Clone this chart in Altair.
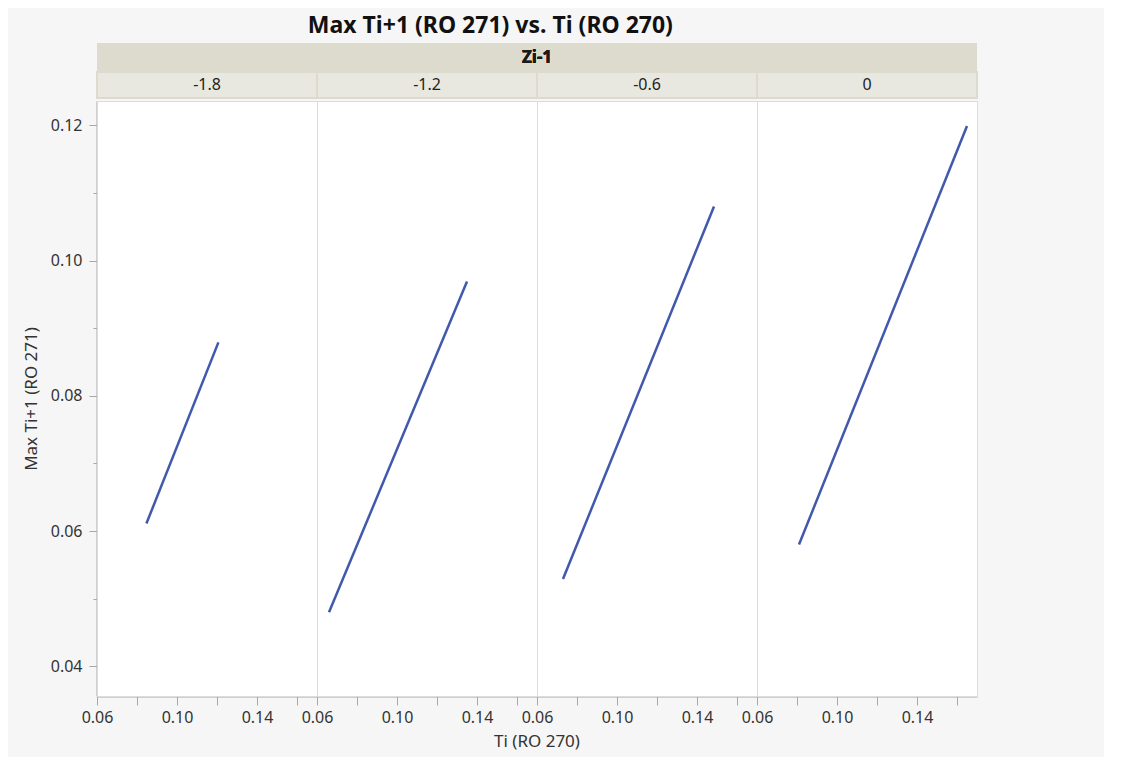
import altair as alt
import pandas as pd

# ---- data ----
zi_values = [-1.8, -1.2, -0.6, 0.0]
zi_labels = ["-1.8", "-1.2", "-0.6", "0"]
ti_start = [0.0847, 0.0660, 0.0730, 0.0810]
ti_end = [0.1207, 0.1350, 0.1485, 0.1650]
max_start = [0.0611, 0.0480, 0.0529, 0.0580]
max_end = [0.0879, 0.0969, 0.1080, 0.1199]

x_ticks = [0.06, 0.08, 0.10, 0.12, 0.14, 0.16]
x_labeled = ["0.06", "0.10", "0.14"]
y_ticks = [0.04, 0.05, 0.06, 0.07, 0.08, 0.09, 0.10, 0.11, 0.12]
x_title = ["Ti (RO 270)"]

FONT = "Noto Sans"
PANEL_W = 220
PANEL_H = 595
HDR_H = 56

rows = []
for z, lab, x0, x1, y0, y1 in zip(zi_values, zi_labels, ti_start, ti_end, max_start, max_end):
    rows.append({"zi": z, "zlab": lab, "ti": x0, "mx": y0})
    rows.append({"zi": z, "zlab": lab, "ti": x1, "mx": y1})
df = pd.DataFrame(rows)
hdr = pd.DataFrame({"zi": zi_values, "zlab": zi_labels})

no_view = alt.ViewBackground(fill="transparent", stroke="transparent")

# ---- header (Zi-1 band + level cells) ----
band_scale = alt.Scale(domain=zi_values, paddingInner=0, paddingOuter=0)
hx = alt.X("zi:O", scale=band_scale, axis=None)

band = alt.Chart(hdr).mark_rect(color="#dcdbcd").encode(
    x=alt.value(0), x2=alt.value(PANEL_W * 4), y=alt.value(0), y2=alt.value(HDR_H)
)
band_text = alt.Chart(hdr).mark_text(
    text="Zi-1", font=FONT, fontSize=17, fontWeight="bold", color="#1a1a1a", baseline="middle"
).encode(x=alt.value(PANEL_W * 2), y=alt.value(15))
cells = alt.Chart(hdr).mark_rect(
    color="#e8e8e0", stroke="#dcdbcd", strokeWidth=2
).encode(x=hx, y=alt.value(29), y2=alt.value(HDR_H - 1))
cell_text = alt.Chart(hdr).mark_text(
    font=FONT, fontSize=16, color="#222", baseline="middle"
).encode(x=hx, y=alt.value(42), text="zlab:N")

header = alt.layer(band, band_text, cells, cell_text).properties(
    width=PANEL_W * 4, height=HDR_H, view=no_view
)

# ---- faceted lines ----
x_enc = alt.X(
    "ti:Q",
    scale=alt.Scale(domain=[0.06, 0.17], nice=False, zero=False),
    axis=alt.Axis(
        values=x_ticks,
        format=".2f",
        labelExpr="indexof(" + str(x_labeled) + ", datum.label) >= 0 ? datum.label : ''",
        title=None,
        grid=False,
        tickSize=9,
        labelPadding=4,
        labelFlush=False,
        labelOverlap=False,
    ),
)
y_enc = alt.Y(
    "mx:Q",
    scale=alt.Scale(domain=[0.0356, 0.1236], nice=False, zero=False),
    axis=alt.Axis(
        values=y_ticks,
        format=".2f",
        labelExpr="round(datum.value*100) % 2 == 0 ? datum.label : ''",
        title="Max Ti+1 (RO 271)",
        grid=False,
        tickSize={"condition": {"test": "round(datum.value*100) % 2 == 0", "value": 8}, "value": 4},
        labelPadding=7,
        titlePadding=10,
        labelOverlap=False,
    ),
)

lines = alt.Chart(df).mark_line(color="#4059ad", strokeWidth=2.5).encode(
    x=x_enc, y=y_enc, detail="zi:O"
).properties(width=PANEL_W, height=PANEL_H)

facet = lines.facet(
    column=alt.Column("zi:O", sort=zi_values, header=alt.Header(labels=False, title=None)),
    spacing=0,
    bounds="flush",
)

# ---- shared x-axis title, centred under the panels ----
xt = alt.Chart(pd.DataFrame({"t": x_title})).mark_text(
    font=FONT, fontSize=17, color="#333", baseline="middle"
).encode(x=alt.value(PANEL_W * 2), y=alt.value(16), text="t:N").properties(
    width=PANEL_W * 4, height=28, view=no_view
)

chart = alt.vconcat(header, facet, xt, spacing=0).properties(
    title=alt.TitleParams(
        "Max Ti+1 (RO 271) vs. Ti (RO 270)", font=FONT, fontSize=23,
        fontWeight="bold", color="#111", anchor="middle", offset=5, dx=-10
    ),
    background="#f6f6f6",
    padding={"left": 14, "top": 6, "right": 125, "bottom": 2},
).configure_view(
    fill="white", stroke="#dcdcdc", strokeWidth=1
).configure_axis(
    labelFont=FONT, titleFont=FONT, labelFontSize=16, titleFontSize=17,
    labelColor="#333", titleColor="#333", titleFontWeight="normal",
    domainColor="#a8a8a8", tickColor="#a8a8a8", domainWidth=2
).configure_concat(spacing=0)

chart.save("out.html", embed_options={"renderer": "svg", "actions": False})
